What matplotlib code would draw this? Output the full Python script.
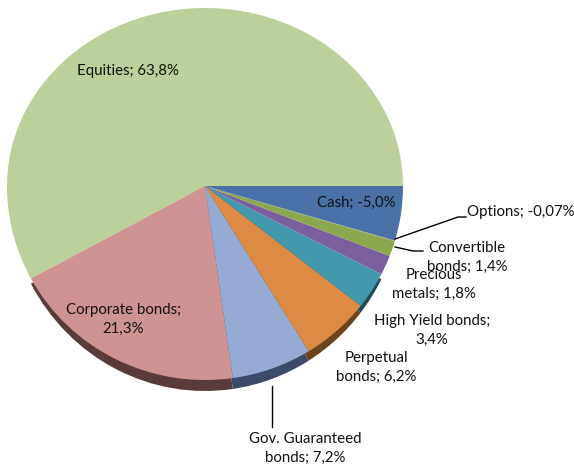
import matplotlib
matplotlib.use('Agg')
import matplotlib.pyplot as plt

labels = ['Equities; 63,8%', 'Corporate bonds;\n21,3%', 'Gov. Guaranteed\nbonds; 7,2%',
          'Perpetual\nbonds; 6,2%', 'High Yield bonds;\n3,4%', 'Precious\nmetals; 1,8%',
          'Convertible\nbonds; 1,4%', 'Options; -0,07%', 'Cash; -5,0%']
values = [63.8, 21.3, 7.2, 6.2, 3.4, 1.8, 1.4, 0.07, 5.0]
colors = ['#BBD09A', '#D09393', '#95ABD3', '#DD8A45', '#4498AE', '#7B5EA0', '#8CA84F', '#8CA84F', '#4A70A8']
side_colors = ['none', '#5A3B3B', '#3B4A66', '#6B431F', '#1F4A58', 'none', 'none', 'none', 'none']
label_pos = [(128, 71), (123, 319), (305, 448), (376, 367), (432, 330), (434, 284), (467, 257), (521, 212), (356, 203)]

plt.rcParams['font.family'] = ['Lato', 'DejaVu Sans']

W, H = 574, 466
fig = plt.figure(figsize=(W / 100, H / 100), dpi=100)


def half_pie(y_from, y_to, ylim, cols):
    # one half of the pie, squeezed to its own height and clipped at the apex line
    ax = fig.add_axes([(cx - rx) / W, 1 - y_to / H, 2 * rx / W, (y_to - y_from) / H])
    ax.pie(values, colors=cols, startangle=0, radius=1, wedgeprops={'clip_on': True})
    ax.set_aspect('auto')
    ax.set_xlim(-1, 1)
    ax.set_ylim(*ylim)
    return ax


# the far half is flatter than the near half because of the 3D tilt
cx, cy, rx = 205, 186, 198
ry_far, ry_near, depth = 178, 194, 11
# rim: same apex but taller, so it thins out towards both sides
half_pie(cy, cy + ry_near + depth, (-1, 0), side_colors)
half_pie(cy - ry_far, cy, (0, 1), colors)
half_pie(cy, cy + ry_near, (-1, 0), colors)

# labels and leader lines sit above the pie
over = fig.add_axes([0, 0, 1, 1])
over.set_xlim(0, W)
over.set_ylim(H, 0)
over.axis('off')
over.plot([395, 458, 466], [239, 217, 217], color='black', lw=1)
over.plot([395, 413, 423], [247, 251, 251], color='black', lw=1)
over.plot([272, 272], [386, 427], color='black', lw=1)
for text, (x, y) in zip(labels, label_pos):
    over.text(x, y, text, ha='center', va='center', fontsize=10.8, color='#111111', linespacing=1.45)

fig.savefig('out.png', dpi=100)
